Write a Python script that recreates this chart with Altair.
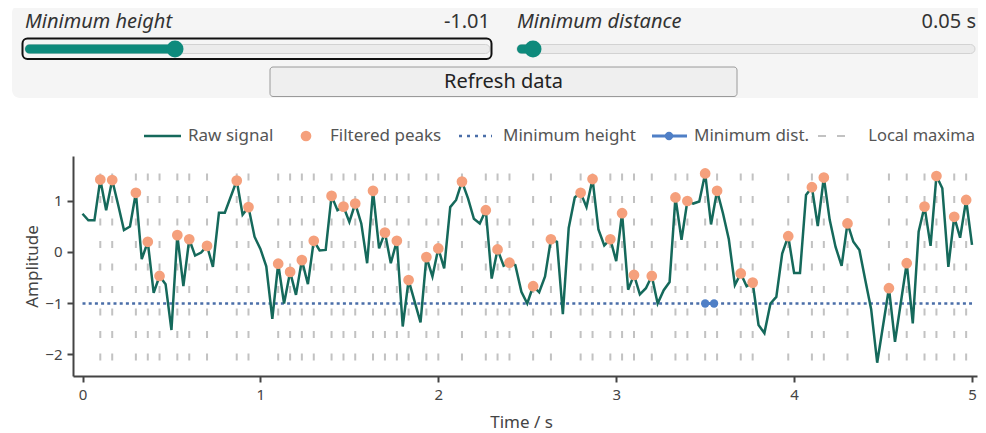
import altair as alt
import numpy as np
import pandas as pd

# ---------------- data ----------------
time_s = [0.000, 0.033, 0.067, 0.100, 0.133, 0.167, 0.200, 0.233, 0.267, 0.300,
          0.333, 0.367, 0.400, 0.433, 0.467, 0.500, 0.533, 0.567, 0.600, 0.633,
          0.667, 0.700, 0.733, 0.767, 0.800, 0.867, 0.900, 0.933, 0.967, 1.000,
          1.033, 1.067, 1.100, 1.133, 1.167, 1.200, 1.233, 1.267, 1.300, 1.333,
          1.367, 1.400, 1.433, 1.467, 1.500, 1.533, 1.567, 1.600, 1.633, 1.667,
          1.700, 1.733, 1.767, 1.800, 1.833, 1.900, 1.933, 1.967, 2.000, 2.033,
          2.067, 2.100, 2.133, 2.167, 2.200, 2.233, 2.267, 2.300, 2.333, 2.367,
          2.400, 2.433, 2.467, 2.500, 2.533, 2.567, 2.600, 2.633, 2.667, 2.700,
          2.733, 2.767, 2.800, 2.833, 2.867, 2.900, 2.933, 2.967, 3.000, 3.033,
          3.067, 3.100, 3.133, 3.167, 3.200, 3.233, 3.267, 3.300, 3.333, 3.367,
          3.400, 3.433, 3.467, 3.500, 3.533, 3.567, 3.600, 3.633, 3.667, 3.700,
          3.733, 3.767, 3.800, 3.833, 3.867, 3.900, 3.933, 3.967, 4.000, 4.033,
          4.067, 4.100, 4.133, 4.167, 4.200, 4.233, 4.267, 4.300, 4.333, 4.367,
          4.400, 4.433, 4.467, 4.533, 4.567, 4.633, 4.667, 4.700, 4.733, 4.767,
          4.800, 4.833, 4.867, 4.900, 4.933, 4.967, 5.000]
amplitude = [0.75, 0.62, 0.62, 1.42, 0.82, 1.41, 0.93, 0.43, 0.50, 1.16,
             -0.14, 0.20, -0.80, -0.47, -0.63, -1.53, 0.33, -0.67, 0.25, -0.07,
             -0.01, 0.12, -0.29, 0.77, 0.77, 1.40, 0.73, 0.88, 0.30, 0.06,
             -0.28, -1.31, -0.23, -1.01, -0.39, -0.84, -0.16, -0.63, 0.22, 0.03,
             0.04, 1.10, 0.82, 0.89, 0.59, 0.95, 0.56, -0.22, 1.20, 0.07,
             0.38, -0.22, 0.22, -1.46, -0.55, -1.38, -0.10, -0.48, 0.07, -0.32,
             0.88, 1.02, 1.38, 1.05, 0.65, 0.56, 0.82, -0.52, 0.05, -0.27,
             -0.21, -0.26, -0.78, -1.01, -0.67, -0.79, -0.48, 0.25, 0.20, -1.22,
             0.47, 1.07, 1.16, 0.88, 1.43, 0.44, 0.13, 0.25, -0.18, 0.76,
             -0.74, -0.45, -0.83, -0.71, -0.47, -1.01, -0.75, -0.59, 1.07, 0.24,
             1.00, 0.95, 0.99, 1.54, 0.54, 1.20, 0.76, 0.25, -0.65, -0.42,
             -0.67, -0.60, -1.43, -1.59, -1.01, -0.88, -0.03, 0.31, -0.41, -0.41,
             1.12, 1.27, 0.51, 1.46, 0.63, 0.10, -0.27, 0.56, 0.20, 0.04,
             -0.55, -1.12, -2.17, -0.71, -1.76, -0.22, -1.40, 0.40, 0.89, 0.12,
             1.49, 1.25, -0.29, 0.69, 0.28, 1.02, 0.14]

min_height = -1.01        # slider value
min_distance = 0.05       # slider value, seconds
x_ticks = [0, 1, 2, 3, 4, 5]
y_ticks = [-2, -1, 0, 1]
legend_labels = ["Raw signal", "Filtered peaks", "Minimum height", "Minimum dist.", "Local maxima"]
slider_labels = ["Minimum height", "Minimum distance"]
slider_values = ["-1.01", "0.05 s"]
button_label = "Refresh data"

# ---------------- derived tables ----------------
sig = pd.DataFrame({"t": time_s, "v": amplitude})
v = np.array(amplitude)
is_max = np.r_[False, (v[1:-1] > v[:-2]) & (v[1:-1] > v[2:]), False]
maxima = sig[is_max].copy()
maxima["top"] = v.max()
maxima["bot"] = v.min()

cand = maxima[maxima.v >= min_height].sort_values("v", ascending=False)
kept = []
for t, val in zip(cand.t, cand.v):
    if all(abs(t - k) >= min_distance for k, _ in kept):
        kept.append((t, val))
peaks = pd.DataFrame(kept, columns=["t", "v"])
t_top = peaks.loc[peaks.v.idxmax(), "t"]
dist = pd.DataFrame({"t": [t_top, t_top + min_distance], "v": [min_height, min_height]})
hline = pd.DataFrame({"t": [min(time_s)], "t2": [max(time_s)], "v": [min_height]})
one = pd.DataFrame({"k": [0]})

# ---------------- style ----------------
FONT = "Noto Sans"
SIG_C = "#15695b"
PEAK_C = "#f5a07c"
HL_C = "#4a6ea8"
DIST_C = "#4f7fc6"
LM_C = "#c2c2c2"
TEAL = "#0e8a7c"

W, H = 904, 220
xs = alt.Scale(domain=[-0.0534, 5.028], nice=False, zero=False)
ys = alt.Scale(domain=[-2.431, 1.882], nice=False, zero=False)

xax = alt.Axis(values=x_ticks, format="d", title="Time / s", grid=False, titleX=448, titleY=38,
               titleBaseline="top", titleAlign="center", labelPadding=5)
yax = alt.Axis(values=y_ticks, format="d", title="Amplitude", grid=False, titleX=-32, titleY=110,
               titleAngle=-90, titleBaseline="bottom", titleAlign="center", labelPadding=5)

X = alt.X("t:Q", scale=xs, axis=xax)
Y = alt.Y("v:Q", scale=ys, axis=yax)

lm = alt.Chart(maxima).mark_rule(color=LM_C, strokeWidth=2, strokeDash=[7, 15.5]).encode(
    x=alt.X("t:Q", scale=xs), y=alt.Y("top:Q", scale=ys), y2="bot:Q")
hl = alt.Chart(hline).mark_rule(color=HL_C, strokeWidth=2.5, strokeDash=[3, 3.2]).encode(
    x=alt.X("t:Q", scale=xs), x2="t2:Q", y=alt.Y("v:Q", scale=ys))
line = alt.Chart(sig).mark_line(color=SIG_C, strokeWidth=2.5).encode(x=X, y=Y)
pk = alt.Chart(peaks).mark_circle(color=PEAK_C, size=115, opacity=1).encode(
    x=alt.X("t:Q", scale=xs), y=alt.Y("v:Q", scale=ys))
dl = alt.Chart(dist).mark_line(color=DIST_C, strokeWidth=3, point=alt.OverlayMarkDef(
    color=DIST_C, size=70, filled=True, opacity=1)).encode(
    x=alt.X("t:Q", scale=xs), y=alt.Y("v:Q", scale=ys))


# ---------------- UI / legend helpers (pixel layout) ----------------
def rect(x1, x2, y1, y2, fill, stroke=None, sw=1, r=0):
    kw = dict(cornerRadius=r)
    kw["fill"] = fill if fill else "transparent"
    if stroke:
        kw.update(stroke=stroke, strokeWidth=sw)
    else:
        kw.update(strokeWidth=0)
    return alt.Chart(one).mark_rect(**kw).encode(
        x=alt.value(x1), x2=alt.value(x2), y=alt.value(y1), y2=alt.value(y2))


def txt(s, x, y, size, color, align="left", baseline="alphabetic", style="normal"):
    return alt.Chart(one).mark_text(text=s, align=align, baseline=baseline, font=FONT,
                                    fontSize=size, color=color, fontStyle=style).encode(
        x=alt.value(x), y=alt.value(y))


def hrule(x1, x2, y, color, sw, dash=None):
    kw = dict(color=color, strokeWidth=sw)
    if dash:
        kw["strokeDash"] = dash
    return alt.Chart(one).mark_rule(**kw).encode(x=alt.value(x1), x2=alt.value(x2), y=alt.value(y))


def dot(x, y, color, size):
    return alt.Chart(one).mark_point(shape="circle", filled=True, fill=color, color=color,
                                     opacity=1, size=size, strokeWidth=0).encode(
        x=alt.value(x), y=alt.value(y))


PF = 20
ui = [
    rect(-61, 940, -151, -58, "#f5f5f5", r=8),
    txt(slider_labels[0], -48, -128, PF, "#333333", style="italic"),
    txt(slider_values[0], 417, -128, PF, "#333333", align="right"),
    rect(-48, 417, -111.5, -102.5, "#ebebeb", stroke="#d2d2d2", r=4.5),
    rect(-48, 102, -111.5, -102.5, TEAL, r=4.5),
    dot(102, -107, TEAL, 289),
    rect(-50.5, 418.5, -117.5, -97, None, stroke="#111111", sw=2, r=5),
    txt(slider_labels[1], 444, -128, PF, "#333333", style="italic"),
    txt(slider_values[1], 903, -128, PF, "#333333", align="right"),
    rect(444, 902, -111.5, -102.5, "#ebebeb", stroke="#d2d2d2", r=4.5),
    rect(444, 460, -111.5, -102.5, TEAL, r=4.5),
    dot(460, -107, TEAL, 289),
    rect(197, 664, -89, -59.5, "#efefef", stroke="#9a9a9a", r=3),
    txt(button_label, 430.5, -74, PF, "#222222", align="center", baseline="middle"),
]

LY = -20
LF = 17
leg = [
    hrule(71, 108, LY, SIG_C, 2.5),
    txt(legend_labels[0], 115, LY, LF, "#555555", baseline="middle"),
    dot(233, LY, PEAK_C, 115),
    txt(legend_labels[1], 257, LY, LF, "#555555", baseline="middle"),
    hrule(386, 419, LY, HL_C, 2.5, [3, 5]),
    txt(legend_labels[2], 430, LY, LF, "#555555", baseline="middle"),
    hrule(579, 614, LY, DIST_C, 3),
    dot(596, LY, DIST_C, 70),
    txt(legend_labels[3], 621, LY, LF, "#555555", baseline="middle"),
    hrule(745, 775, LY, LM_C, 2, [8, 11]),
    txt(legend_labels[4], 902, LY, 16.5, "#555555", align="right", baseline="middle"),
]

chart = alt.layer(lm, hl, line, pk, dl, *ui, *leg).properties(
    width=W, height=H,
    autosize=alt.AutoSizeParams(type="none"),
    padding={"left": 65, "top": 148, "right": 1, "bottom": 60},
    background="white",
).configure_view(stroke=None).configure_axis(
    domainColor="#444444", domainWidth=2, tickColor="#444444", tickWidth=2, tickSize=6,
    labelFont=FONT, labelFontSize=15, labelColor="#444444",
    titleFont=FONT, titleFontSize=17, titleColor="#444444", titleFontWeight="normal",
)

chart.save("out.html", embed_options={"renderer": "svg", "actions": False})
